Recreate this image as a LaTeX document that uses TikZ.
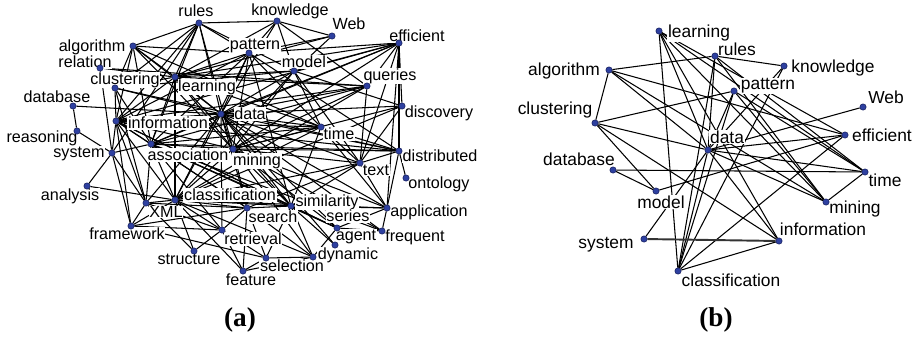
\documentclass[tikz,border=0pt]{standalone}
\usepackage{fontspec}
\setmainfont{Liberation Sans}
\newfontfamily\capfont{Liberation Serif}
\usetikzlibrary{backgrounds}

\definecolor{dotblue}{RGB}{46,64,160}
\definecolor{dotrim}{RGB}{20,28,90}

\tikzset{
  dot/.style={circle, fill=dotblue, draw=dotrim, line width=0.3pt,
              minimum size=3.6pt, inner sep=0pt},
  term/.style={fill=white, inner sep=0.4pt},
  terma/.style={term, font=\fontsize{9.2}{10}\selectfont},
  termb/.style={term, font=\fontsize{9.9}{11}\selectfont},
  link/.style={line width=0.6pt},
  heavylink/.style={line width=1.1pt, black!80},
  panel/.style={font=\capfont\bfseries\fontsize{15.5}{17}\selectfont}
}

\begin{document}
\begin{tikzpicture}[x=0.02cm, y=-0.02cm]
\useasboundingbox (0,0) rectangle (918,336);

% ---- (a) terms
\node[terma] (a-rules-t)          at (196,11)  {rules};
\node[terma] (a-knowledge-t)      at (290,11)  {knowledge};
\node[terma] (a-Web-t)            at (349,24)  {Web};
\node[terma] (a-efficient-t)      at (417,36)  {efficient};
\node[terma] (a-algorithm-t)      at (92,47)   {algorithm};
\node[terma] (a-pattern-t)        at (255,46)  {pattern};
\node[terma] (a-relation-t)       at (85,62)   {relation};
\node[terma] (a-model-t)          at (304,62)  {model};
\node[terma] (a-queries-t)        at (390,76)  {queries};
\node[terma] (a-clustering-t)     at (125,80)  {clustering};
\node[terma] (a-learning-t)       at (207,87)  {learning};
\node[terma] (a-database-t)       at (57,97)   {database};
\node[terma] (a-discovery-t)      at (439,113) {discovery};
\node[terma] (a-data-t)           at (250,114) {data};
\node[terma] (a-information-t)    at (168,123) {information};
\node[terma] (a-time-t)           at (339,134) {time};
\node[terma] (a-reasoning-t)      at (42,138)  {reasoning};
\node[terma] (a-system-t)         at (79,154)  {system};
\node[terma] (a-association-t)    at (188,155) {association};
\node[terma] (a-distributed-t)    at (440,156) {distributed};
\node[terma] (a-mining-t)         at (257,161) {mining};
\node[terma] (a-text-t)           at (376,170) {text};
\node[terma] (a-ontology-t)       at (439,184) {ontology};
\node[terma] (a-analysis-t)       at (70,196)  {analysis};
\node[terma] (a-classification-t) at (230,195) {classification};
\node[terma] (a-similarity-t)     at (327,202) {similarity};
\node[terma] (a-application-t)    at (429,212) {application};
\node[terma] (a-XML-t)            at (166,212) {XML};
\node[terma] (a-search-t)         at (273,217) {search};
\node[terma] (a-series-t)         at (348,216) {series};
\node[terma] (a-framework-t)      at (127,234) {framework};
\node[terma] (a-frequent-t)       at (415,237) {frequent};
\node[terma] (a-agent-t)          at (356,237) {agent};
\node[terma] (a-retrieval-t)      at (253,239) {retrieval};
\node[terma] (a-dynamic-t)        at (348,255) {dynamic};
\node[terma] (a-structure-t)      at (189,259) {structure};
\node[terma] (a-selection-t)      at (292,266) {selection};
\node[terma] (a-feature-t)        at (251,280) {feature};

% ---- (a) dots
\node[dot] (a-rules)          at (199,23)  {};
\node[dot] (a-knowledge)      at (277,21)  {};
\node[dot] (a-Web)            at (332,36)  {};
\node[dot] (a-efficient)      at (399,43)  {};
\node[dot] (a-algorithm)      at (133,46)  {};
\node[dot] (a-pattern)        at (249,53)  {};
\node[dot] (a-relation)       at (100,68)  {};
\node[dot] (a-model)          at (294,71)  {};
\node[dot] (a-queries)        at (367,86)  {};
\node[dot] (a-clustering)     at (115,88)  {};
\node[dot] (a-learning)       at (175,77)  {};
\node[dot] (a-database)       at (73,106)  {};
\node[dot] (a-discovery)      at (402,106) {};
\node[dot] (a-data)           at (221,114) {};
\node[dot] (a-information)    at (116,121) {};
\node[dot] (a-time)           at (321,127) {};
\node[dot] (a-reasoning)      at (77,131)  {};
\node[dot] (a-system)         at (112,153) {};
\node[dot] (a-association)    at (151,144) {};
\node[dot] (a-distributed)    at (399,151) {};
\node[dot] (a-mining)         at (233,149) {};
\node[dot] (a-text)           at (360,163) {};
\node[dot] (a-ontology)       at (406,178) {};
\node[dot] (a-analysis)       at (87,186)  {};
\node[dot] (a-classification) at (175,200) {};
\node[dot] (a-similarity)     at (291,206) {};
\node[dot] (a-application)    at (387,208) {};
\node[dot] (a-XML)            at (146,203) {};
\node[dot] (a-search)         at (247,208) {};
\node[dot] (a-series)         at (337,228) {};
\node[dot] (a-framework)      at (131,226) {};
\node[dot] (a-frequent)       at (382,231) {};
\node[dot] (a-agent)          at (335,245) {};
\node[dot] (a-retrieval)      at (222,230) {};
\node[dot] (a-dynamic)        at (313,257) {};
\node[dot] (a-structure)      at (194,251) {};
\node[dot] (a-selection)      at (266,258) {};
\node[dot] (a-feature)        at (243,271) {};

% ---- (b) terms
\node[termb] (b-learning-t)       at (699,33)  {learning};
\node[termb] (b-rules-t)          at (737,49)  {rules};
\node[termb] (b-knowledge-t)      at (833,68)  {knowledge};
\node[termb] (b-algorithm-t)      at (564,71)  {algorithm};
\node[termb] (b-pattern-t)        at (768,86)  {pattern};
\node[termb] (b-Web-t)            at (886,97)  {Web};
\node[termb] (b-clustering-t)     at (555,110) {clustering};
\node[termb] (b-efficient-t)      at (882,135) {efficient};
\node[termb] (b-data-t)           at (727,137) {data};
\node[termb] (b-database-t)       at (579,159) {database};
\node[termb] (b-time-t)           at (885,180) {time};
\node[termb] (b-model-t)          at (661,202) {model};
\node[termb] (b-mining-t)         at (855,209) {mining};
\node[termb] (b-information-t)    at (823,229) {information};
\node[termb] (b-system-t)         at (606,245) {system};
\node[termb] (b-classification-t) at (731,280) {classification};

% ---- (b) dots
\node[dot] (b-learning)       at (659,31)  {};
\node[dot] (b-rules)          at (715,56)  {};
\node[dot] (b-knowledge)      at (784,66)  {};
\node[dot] (b-algorithm)      at (609,70)  {};
\node[dot] (b-pattern)        at (734,91)  {};
\node[dot] (b-Web)            at (863,107) {};
\node[dot] (b-clustering)     at (595,123) {};
\node[dot] (b-efficient)      at (845,135) {};
\node[dot] (b-data)           at (708,150) {};
\node[dot] (b-database)       at (613,170) {};
\node[dot] (b-time)           at (865,172) {};
\node[dot] (b-model)          at (656,191) {};
\node[dot] (b-mining)         at (826,202) {};
\node[dot] (b-information)    at (779,241) {};
\node[dot] (b-system)         at (644,239) {};
\node[dot] (b-classification) at (678,271) {};

% ---- edges, kept behind terms and dots
\begin{scope}[on background layer]
\foreach \u/\v in {rules/algorithm, rules/knowledge, rules/learning, rules/data,
    rules/information, rules/association, rules/mining, rules/pattern, rules/model,
    rules/clustering, rules/system,
    knowledge/pattern, knowledge/model, knowledge/learning, knowledge/data,
    knowledge/queries, knowledge/Web,
    Web/pattern, Web/model, Web/learning,
    efficient/pattern, efficient/model, efficient/queries, efficient/discovery,
    efficient/distributed, efficient/application, efficient/data, efficient/learning,
    efficient/mining, efficient/association, efficient/information, efficient/text,
    algorithm/pattern, algorithm/clustering, algorithm/learning, algorithm/data,
    algorithm/association, algorithm/mining, algorithm/time, algorithm/information,
    relation/queries, relation/system, relation/learning,
    pattern/data, pattern/learning, pattern/mining, pattern/time, pattern/distributed,
    pattern/classification, pattern/similarity, pattern/information, pattern/association,
    model/learning, model/data, model/mining, model/text, model/time, model/discovery,
    model/clustering, model/classification,
    queries/data, queries/mining, queries/text, queries/learning, queries/association,
    queries/information, queries/classification,
    clustering/information, clustering/data, clustering/learning, clustering/association,
    clustering/XML, clustering/distributed,
    learning/data, learning/information, learning/association, learning/mining,
    learning/classification, learning/time, learning/similarity,
    database/data, database/reasoning,
    discovery/data, discovery/text, discovery/mining, discovery/classification,
    data/mining, data/information, data/association, data/classification, data/time,
    data/text, data/distributed, data/similarity, data/series, data/search, data/XML,
    data/application, data/agent, data/frequent, data/retrieval,
    reasoning/system,
    time/mining, time/text, time/classification, time/similarity, time/association,
    time/application, time/distributed, time/information,
    system/analysis, system/association, system/framework, system/XML, system/information,
    information/association, information/mining, information/classification,
    information/XML, information/search, information/similarity, information/series,
    information/framework, information/distributed,
    association/mining, association/classification, association/XML, association/search,
    association/similarity, association/series, association/frequent,
    association/distributed, association/retrieval,
    mining/classification, mining/search, mining/similarity, mining/series, mining/text,
    mining/distributed, mining/application, mining/frequent, mining/dynamic,
    distributed/text, distributed/ontology, distributed/application,
    text/application, text/similarity, text/search, text/classification,
    analysis/classification,
    classification/XML, classification/framework, classification/structure,
    classification/feature, classification/retrieval, classification/search,
    classification/similarity, classification/dynamic, classification/application,
    XML/framework, XML/structure, XML/search, XML/retrieval,
    search/selection, search/retrieval, search/dynamic, search/feature, search/similarity,
    similarity/series, similarity/dynamic, similarity/selection, similarity/application,
    similarity/agent,
    application/series, application/frequent,
    series/frequent, series/dynamic,
    framework/retrieval, framework/search, framework/selection,
    retrieval/selection, retrieval/feature, retrieval/structure,
    dynamic/selection, dynamic/feature,
    selection/feature}
  \draw[link] (a-\u) -- (a-\v);
\foreach \u/\v in {learning/classification, learning/data, learning/efficient,
    learning/time, learning/mining, learning/information,
    rules/knowledge, rules/algorithm, rules/classification, rules/data, rules/mining,
    rules/time,
    knowledge/data, knowledge/classification,
    pattern/clustering, pattern/data, pattern/mining, pattern/time, pattern/classification,
    Web/data,
    efficient/data, efficient/model, efficient/algorithm, efficient/classification,
    database/time, database/model,
    data/time, data/mining, data/information, data/system, data/classification,
    data/clustering, data/algorithm,
    time/mining,
    algorithm/clustering, algorithm/mining,
    clustering/model, clustering/information,
    classification/information}
  \draw[link] (b-\u) -- (b-\v);
\draw[heavylink] (b-system) -- (b-information);
\end{scope}

% ---- panel captions
\node[panel] (cap-a) at (240,320) {(a)};
\node[panel] (cap-b) at (716,320) {(b)};
\end{tikzpicture}
\end{document}
